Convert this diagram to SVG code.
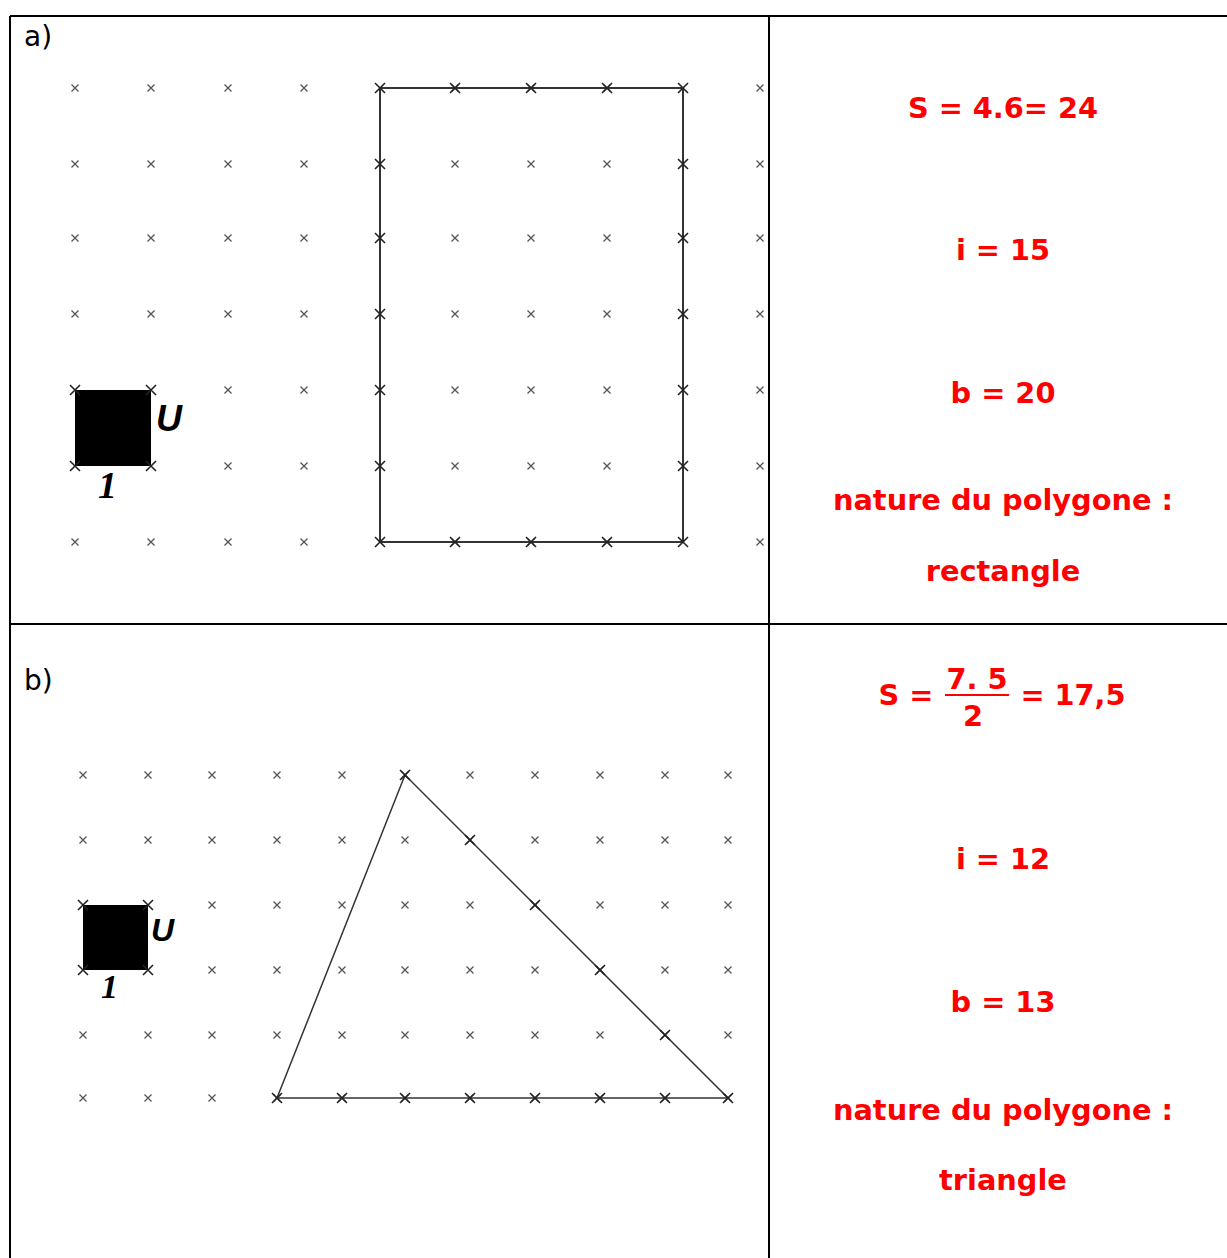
<svg xmlns="http://www.w3.org/2000/svg" xmlns:xlink="http://www.w3.org/1999/xlink" width="1227" height="1258" viewBox="0 0 1227 1258">
<style>
.frame{stroke:#000;stroke-width:2;fill:none}
.ans{font-family:"DejaVu Sans",Verdana,sans-serif;font-weight:bold;font-size:28.8px;fill:#ff0000;text-anchor:middle}
.lbl{font-family:"DejaVu Sans",Verdana,sans-serif;font-size:28px;fill:#000}
.poly{stroke:#333;stroke-width:2;fill:none}
.u{font-family:"Liberation Sans",Arial,sans-serif;font-weight:bold;font-style:italic;font-size:36px;fill:#000}
.one{font-family:"Liberation Serif","Times New Roman",serif;font-weight:bold;font-style:italic;font-size:38px;fill:#000}
</style>
<defs>
<path id="x" d="M-3.5,-3.5L3.5,3.5M-3.5,3.5L3.5,-3.5" stroke="#555" stroke-width="1.3" fill="none"/>
<path id="xb" d="M-5,-5L5,5M-5,5L5,-5" stroke="#222" stroke-width="1.6" fill="none"/>
<g id="ra">
<use xlink:href="#x" x="75"/><use xlink:href="#x" x="151"/><use xlink:href="#x" x="228"/><use xlink:href="#x" x="304"/><use xlink:href="#x" x="455"/><use xlink:href="#x" x="531"/><use xlink:href="#x" x="607"/><use xlink:href="#x" x="760"/>
</g>
<g id="rb">
<use xlink:href="#x" x="83"/><use xlink:href="#x" x="148"/><use xlink:href="#x" x="212"/><use xlink:href="#x" x="277"/><use xlink:href="#x" x="342"/><use xlink:href="#x" x="405"/><use xlink:href="#x" x="470"/><use xlink:href="#x" x="535"/><use xlink:href="#x" x="600"/><use xlink:href="#x" x="665"/><use xlink:href="#x" x="728"/>
</g>
</defs>
<rect width="1227" height="1258" fill="#fff"/>
<g id="table">
<path class="frame" d="M10,16H1227M10,16V1258M769,16V1258M10,624H1227"/>
</g>
<g id="panel-a">
<text class="lbl" x="24" y="46">a)</text>
<g id="grid-a">
<use xlink:href="#ra" y="88"/><use xlink:href="#ra" y="164"/><use xlink:href="#ra" y="238"/><use xlink:href="#ra" y="314"/><use xlink:href="#ra" y="542"/>
<g transform="translate(0,390)">
<use xlink:href="#x" x="228"/><use xlink:href="#x" x="304"/><use xlink:href="#x" x="455"/><use xlink:href="#x" x="531"/><use xlink:href="#x" x="607"/><use xlink:href="#x" x="760"/>
</g>
<g transform="translate(0,466)">
<use xlink:href="#x" x="228"/><use xlink:href="#x" x="304"/><use xlink:href="#x" x="455"/><use xlink:href="#x" x="531"/><use xlink:href="#x" x="607"/><use xlink:href="#x" x="760"/>
</g>
</g>
<g id="unit-a">
<rect x="75" y="390" width="76" height="76" fill="#000"/>
<use xlink:href="#xb" x="75" y="390"/><use xlink:href="#xb" x="151" y="390"/><use xlink:href="#xb" x="75" y="466"/><use xlink:href="#xb" x="151" y="466"/>
<text class="u" x="156" y="431">U</text>
<text class="one" x="98" y="498">1</text>
</g>
<g id="rectangle">
<rect class="poly" x="380" y="88" width="303" height="454"/>
<use xlink:href="#xb" x="380" y="88"/><use xlink:href="#xb" x="455" y="88"/><use xlink:href="#xb" x="531" y="88"/><use xlink:href="#xb" x="607" y="88"/><use xlink:href="#xb" x="683" y="88"/>
<use xlink:href="#xb" x="380" y="542"/><use xlink:href="#xb" x="455" y="542"/><use xlink:href="#xb" x="531" y="542"/><use xlink:href="#xb" x="607" y="542"/><use xlink:href="#xb" x="683" y="542"/>
<use xlink:href="#xb" x="380" y="164"/><use xlink:href="#xb" x="380" y="238"/><use xlink:href="#xb" x="380" y="314"/><use xlink:href="#xb" x="380" y="390"/><use xlink:href="#xb" x="380" y="466"/>
<use xlink:href="#xb" x="683" y="164"/><use xlink:href="#xb" x="683" y="238"/><use xlink:href="#xb" x="683" y="314"/><use xlink:href="#xb" x="683" y="390"/><use xlink:href="#xb" x="683" y="466"/>
</g>
</g>
<g id="answers-a">
<text class="ans" x="1003" y="118">S = 4.6= 24</text>
<text class="ans" x="1003" y="260">i = 15</text>
<text class="ans" x="1003" y="403">b = 20</text>
<text class="ans" x="1003" y="510">nature du polygone :</text>
<text class="ans" x="1003" y="581">rectangle</text>
</g>
<g id="panel-b">
<text class="lbl" x="24" y="690">b)</text>
<g id="grid-b">
<use xlink:href="#rb" y="775"/><use xlink:href="#rb" y="840"/><use xlink:href="#rb" y="1035"/><use xlink:href="#rb" y="1098"/>
<g transform="translate(0,905)">
<use xlink:href="#x" x="212"/><use xlink:href="#x" x="277"/><use xlink:href="#x" x="342"/><use xlink:href="#x" x="405"/><use xlink:href="#x" x="470"/><use xlink:href="#x" x="535"/><use xlink:href="#x" x="600"/><use xlink:href="#x" x="665"/><use xlink:href="#x" x="728"/>
</g>
<g transform="translate(0,970)">
<use xlink:href="#x" x="212"/><use xlink:href="#x" x="277"/><use xlink:href="#x" x="342"/><use xlink:href="#x" x="405"/><use xlink:href="#x" x="470"/><use xlink:href="#x" x="535"/><use xlink:href="#x" x="600"/><use xlink:href="#x" x="665"/><use xlink:href="#x" x="728"/>
</g>
</g>
<g id="unit-b">
<rect x="83" y="905" width="65" height="65" fill="#000"/>
<use xlink:href="#xb" x="83" y="905"/><use xlink:href="#xb" x="148" y="905"/><use xlink:href="#xb" x="83" y="970"/><use xlink:href="#xb" x="148" y="970"/>
<text class="u" x="151" y="941" style="font-size:32px">U</text>
<text class="one" x="101" y="998" style="font-size:34px">1</text>
</g>
<g id="triangle">
<path d="M405,775L277,1098H728Z" stroke="#333" stroke-width="1.5" fill="none"/>
<use xlink:href="#xb" x="405" y="775"/><use xlink:href="#xb" x="277" y="1098"/><use xlink:href="#xb" x="728" y="1098"/>
<use xlink:href="#xb" x="342" y="1098"/><use xlink:href="#xb" x="405" y="1098"/><use xlink:href="#xb" x="470" y="1098"/><use xlink:href="#xb" x="535" y="1098"/><use xlink:href="#xb" x="600" y="1098"/><use xlink:href="#xb" x="665" y="1098"/>
<use xlink:href="#xb" x="470" y="840"/><use xlink:href="#xb" x="535" y="905"/><use xlink:href="#xb" x="600" y="970"/><use xlink:href="#xb" x="665" y="1035"/>
</g>
</g>
<g id="answers-b">
<text class="ans" x="906" y="705">S =</text>
<text class="ans" x="977" y="689">7. 5</text>
<line x1="945" y1="695" x2="1009" y2="695" stroke="#ff0000" stroke-width="2"/>
<text class="ans" x="973" y="726">2</text>
<text class="ans" x="1073" y="705">= 17,5</text>
<text class="ans" x="1003" y="869">i = 12</text>
<text class="ans" x="1003" y="1012">b = 13</text>
<text class="ans" x="1003" y="1120">nature du polygone :</text>
<text class="ans" x="1003" y="1190">triangle</text>
</g>
</svg>
